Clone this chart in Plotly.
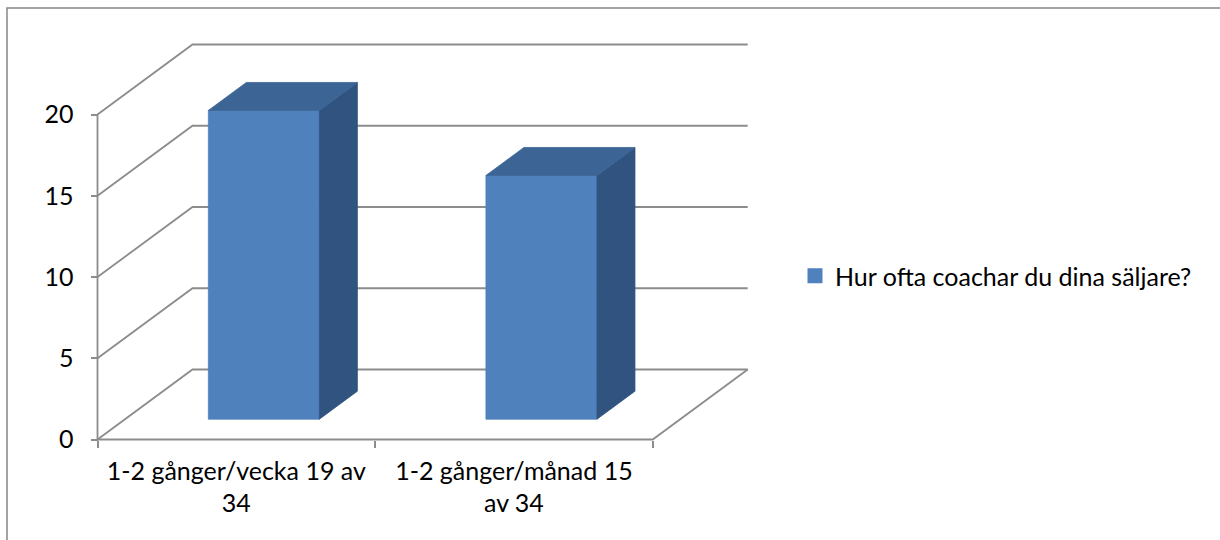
import plotly.graph_objects as go

# ---- data ----
categories = ["1-2 gånger/vecka 19 av<br>34", "1-2 gånger/månad 15<br>av 34"]
values = [19, 15]
series_name = "Hur ofta coachar du dina säljare?"
y_ticks = [0, 5, 10, 15, 20]

# ---- layout geometry (pixels) ----
W, H = 1220, 540
PL, PR, PT, PB = 77, 768, 24, 460          # plot area in pixels
X0PX, Y0PX = 97.5, 439.5                    # origin of front axis
PXU, PYU = 277.6, 16.25                     # px per category / per value unit
DX, DY = 95 / PXU, 70 / PYU                 # depth offset in data units
xr = [(PL - X0PX) / PXU, (PR - X0PX) / PXU]
yr = [(Y0PX - PB) / PYU, (Y0PX - PT) / PYU]

FONT = "Lato"
GRID = "#8C8C8C"
FRONT, TOP, SIDE = "#4F81BD", "#3C6595", "#30537F"
ncat = len(categories)


def P(u, v, d):
    return u + d * DX, v + d * DY


fig = go.Figure()

# gridlines (left wall diagonals + back wall horizontals)
gx, gy = [], []
for t in y_ticks:
    for (u, v, d) in [(0, t, 0), (0, t, 1), (ncat, t, 1)]:
        x, y = P(u, v, d)
        gx.append(x); gy.append(y)
    gx.append(None); gy.append(None)
# floor right diagonal + front edge
for (u, v, d) in [(ncat, 0, 1), (ncat, 0, 0), (0, 0, 0)]:
    x, y = P(u, v, d)
    gx.append(x); gy.append(y)
gx.append(None); gy.append(None)
# front vertical axis
for (u, v, d) in [(0, 0, 0), (0, max(y_ticks), 0)]:
    x, y = P(u, v, d)
    gx.append(x); gy.append(y)
fig.add_trace(go.Scatter(x=gx, y=gy, mode="lines", line=dict(color=GRID, width=1.8),
                         hoverinfo="skip", showlegend=False))

# 3D bars
d0, d1 = 0.29, 0.69
for i, val in enumerate(values):
    u0, u1 = i + 0.3, i + 0.7
    faces = [
        ([(u0, 0, d0), (u1, 0, d0), (u1, val, d0), (u0, val, d0)], FRONT),
        ([(u1, 0, d0), (u1, 0, d1), (u1, val, d1), (u1, val, d0)], SIDE),
        ([(u0, val, d0), (u1, val, d0), (u1, val, d1), (u0, val, d1)], TOP),
    ]
    for pts, col in faces:
        xs = [P(*p)[0] for p in pts] + [P(*pts[0])[0]]
        ys = [P(*p)[1] for p in pts] + [P(*pts[0])[1]]
        fig.add_trace(go.Scatter(x=xs, y=ys, mode="lines", fill="toself", fillcolor=col,
                                 line=dict(color=col, width=0.8), hoverinfo="skip",
                                 showlegend=False))

# legend entry
fig.add_trace(go.Scatter(x=[None], y=[None], mode="markers", name=series_name,
                         marker=dict(symbol="square", size=15, color=FRONT)))

pw, ph = PR - PL, PB - PT
fig.update_layout(
    width=W, height=H,
    margin=dict(l=PL, r=W - PR, t=PT, b=H - PB, autoexpand=False),
    paper_bgcolor="white", plot_bgcolor="rgba(0,0,0,0)",
    font=dict(family=FONT, size=25, color="black"),
    xaxis=dict(range=xr, anchor="free", position=(PB - Y0PX) / ph,
               tickvals=[i + 0.5 for i in range(ncat)], ticktext=categories,
               ticks="", showgrid=False, zeroline=False, showline=False,
               ticklabelstandoff=14,
               minor=dict(tickvals=list(range(ncat + 1)), ticks="outside", ticklen=7,
                          tickwidth=1.8, tickcolor=GRID, showgrid=False),
               fixedrange=True, automargin=False),
    yaxis=dict(range=yr, anchor="free", position=(X0PX - PL) / pw,
               tickvals=y_ticks, ticks="outside", ticklen=7, tickwidth=1.8, tickcolor=GRID,
               showgrid=False, zeroline=False, showline=False, ticklabelstandoff=12,
               fixedrange=True, automargin=False),
    showlegend=True,
    legend=dict(x=(795 - PL) / pw, xanchor="left", y=(PB - 276) / ph, yanchor="middle",
                font=dict(family=FONT, size=25, color="black"), bgcolor="rgba(0,0,0,0)"),
    shapes=[dict(type="path", xref="paper", yref="paper",
                 path=f"M {(7 - PL) / pw} {(PB - 560) / ph} L {(7 - PL) / pw} {(PB - 8) / ph} "
                      f"L {(1240 - PL) / pw} {(PB - 8) / ph}",
                 line=dict(color="#878787", width=1.5))],
)

fig.write_html("out.html")
